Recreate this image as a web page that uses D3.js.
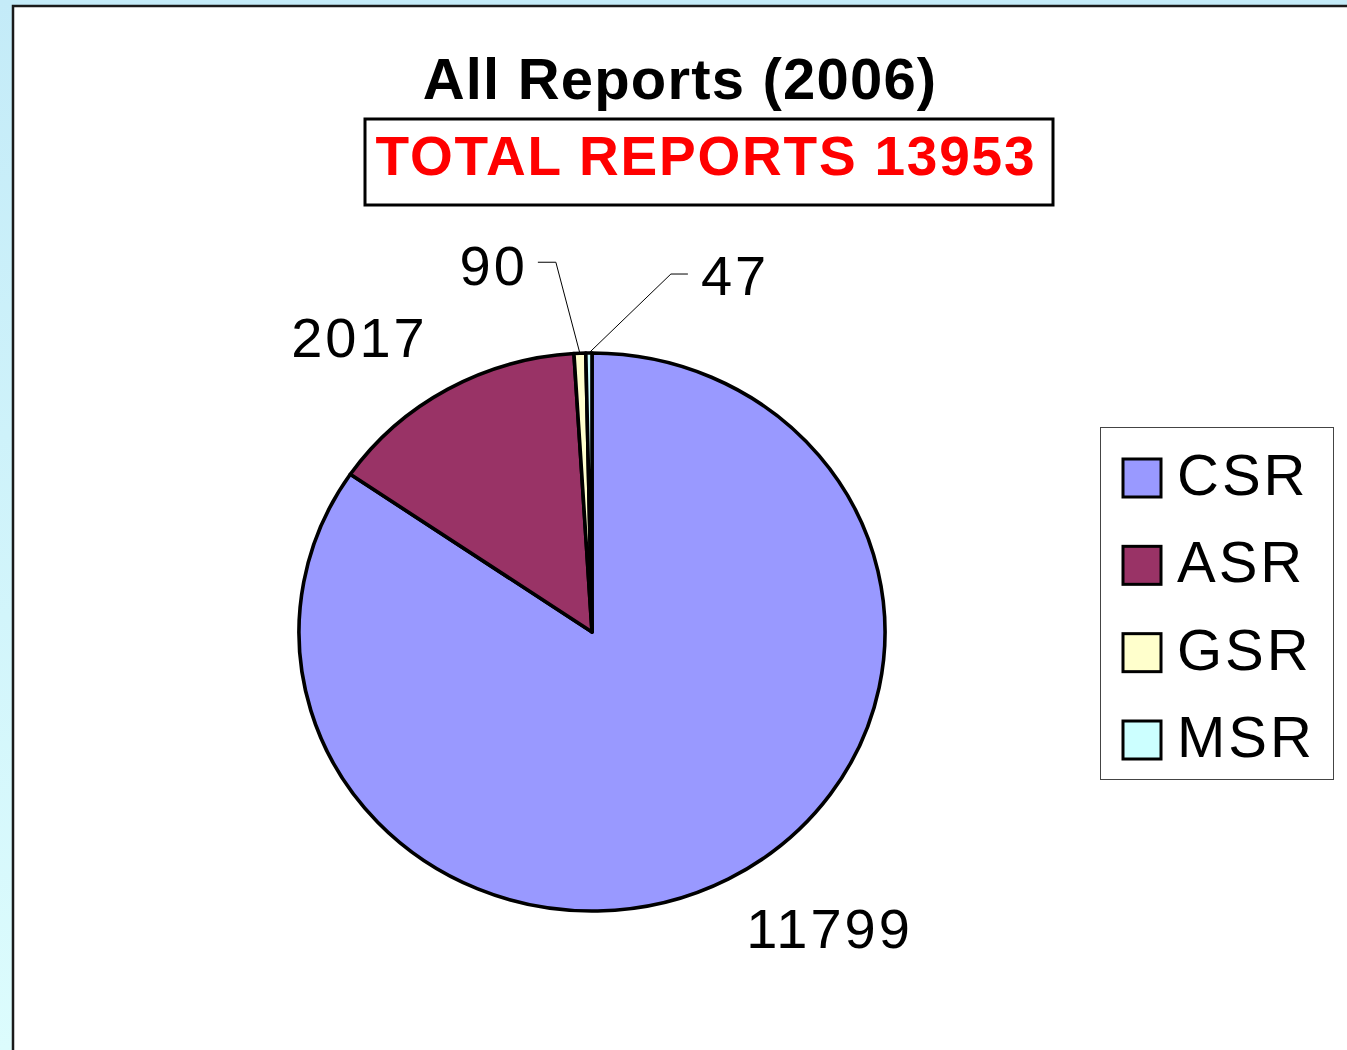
<!DOCTYPE html>
<html>
<head>
<meta charset="utf-8">
<script src="https://cdn.jsdelivr.net/npm/d3@7"></script>
<style>
  html, body { margin: 0; padding: 0; }
  body { width: 1347px; height: 1050px; overflow: hidden; }
  svg { display: block; font-family: "Liberation Sans", Arial, sans-serif; }
</style>
</head>
<body>
<div id="chart-container"></div>
<script>
'use strict';

// chart data
const categories = ["CSR", "ASR", "GSR", "MSR"];
const reportCounts = [11799, 2017, 90, 47];
const sliceColors = ["#9999ff", "#993366", "#ffffcc", "#ccffff"];
const chartTitle = "All Reports (2006)";
const totalLabel = "TOTAL REPORTS";

const width = 1347;
const height = 1050;

// pie is drawn slightly squashed, like the original
const cx = 592, cy = 632;
const rx = 293, ry = 279;

const svg = d3.select("#chart-container")
    .append("svg")
    .attr("width", width)
    .attr("height", height);

// light blue slide background
const defs = svg.append("defs");
const grad = defs.append("linearGradient")
    .attr("id", "bg")
    .attr("x1", 0).attr("y1", 0).attr("x2", 0).attr("y2", 1);
grad.append("stop").attr("offset", "0%").attr("stop-color", "#c4ebf8");
grad.append("stop").attr("offset", "100%").attr("stop-color", "#dcfcfd");

svg.append("rect")
    .attr("width", width)
    .attr("height", height)
    .attr("fill", "url(#bg)");

// white chart area with dark edge on top and left
svg.append("rect")
    .attr("x", 13)
    .attr("y", 6)
    .attr("width", width)
    .attr("height", height)
    .attr("fill", "#ffffff");
svg.append("path")
    .attr("d", `M13,${height} L13,6 L${width},6`)
    .attr("fill", "none")
    .attr("stroke", "#1a1a1a")
    .attr("stroke-width", 2.5);

// title
svg.append("text")
    .attr("x", 680)
    .attr("y", 99)
    .attr("text-anchor", "middle")
    .style("font-size", "58px")
    .style("font-weight", "bold")
    .style("letter-spacing", "1.2px")
    .text(chartTitle);

const total = d3.sum(reportCounts);

svg.append("rect")
    .attr("x", 365)
    .attr("y", 119)
    .attr("width", 688)
    .attr("height", 86)
    .attr("fill", "#ffffff")
    .attr("stroke", "#000000")
    .attr("stroke-width", 3);

svg.append("text")
    .attr("x", 706)
    .attr("y", 175)
    .attr("text-anchor", "middle")
    .attr("fill", "#ff0000")
    .style("font-size", "55px")
    .style("font-weight", "bold")
    .style("letter-spacing", "1.8px")
    .text(`${totalLabel} ${total}`);

// pie
const data = categories.map((c, i) => ({ category: c, value: reportCounts[i], color: sliceColors[i] }));

const pie = d3.pie()
    .value(d => d.value)
    .sort(null);

const arcs = pie(data);

const arc = d3.arc()
    .innerRadius(0)
    .outerRadius(rx);

const pieGroup = svg.append("g")
    .attr("transform", `translate(${cx},${cy}) scale(1,${ry / rx})`);

pieGroup.selectAll("path")
    .data(arcs)
    .enter()
    .append("path")
    .attr("d", arc)
    .attr("fill", d => d.data.color)
    .attr("stroke", "#000000")
    .attr("stroke-width", 3.6)
    .attr("stroke-linejoin", "round")
    .attr("vector-effect", "non-scaling-stroke");

// point on the pie edge at the middle of a slice
function edgePoint(d) {
    const a = (d.startAngle + d.endAngle) / 2;
    return [cx + rx * Math.sin(a), cy - ry * Math.cos(a)];
}

// label layout: offset of the text from the slice edge, and optional leader elbow
const labelLayout = [
    { dx: 101, dy: 69, anchor: "middle", leader: null },
    { dx: -88, dy: -32, anchor: "middle", leader: null },
    { dx: -52, dy: -68, anchor: "end", leader: [[-24, -91], [-42, -91]] },
    { dx: 112, dy: -58, anchor: "start", leader: [[82, -79], [99, -79]] }
];

arcs.forEach((d, i) => {
    const [px, py] = edgePoint(d);
    const lay = labelLayout[i];
    if (lay.leader) {
        const pts = [[px, py]].concat(lay.leader.map(p => [px + p[0], py + p[1]]));
        svg.append("path")
            .attr("d", d3.line()(pts))
            .attr("fill", "none")
            .attr("stroke", "#000000")
            .attr("stroke-width", 1);
    }
    svg.append("text")
        .attr("x", px + lay.dx)
        .attr("y", py + lay.dy)
        .attr("text-anchor", lay.anchor)
        .style("font-size", "56px")
        .style("letter-spacing", "3px")
        .text(d.data.value);
});

// legend
const legend = svg.append("g")
    .attr("transform", "translate(1100,427)");

legend.append("rect")
    .attr("x", 0.5)
    .attr("y", 0.5)
    .attr("width", 233)
    .attr("height", 352)
    .attr("fill", "#ffffff")
    .attr("stroke", "#444444")
    .attr("stroke-width", 1);

const legendY = d3.scalePoint()
    .domain(categories)
    .range([50, 312]);

const items = legend.selectAll(".legend")
    .data(data)
    .enter()
    .append("g")
    .attr("class", "legend")
    .attr("transform", d => `translate(0,${legendY(d.category)})`);

items.append("rect")
    .attr("x", 23)
    .attr("y", -18)
    .attr("width", 38)
    .attr("height", 38)
    .attr("fill", d => d.color)
    .attr("stroke", "#000000")
    .attr("stroke-width", 3);

items.append("text")
    .attr("x", 77)
    .attr("y", 18)
    .style("font-size", "58px")
    .style("letter-spacing", "3px")
    .text(d => d.category);
</script>
</body>
</html>
